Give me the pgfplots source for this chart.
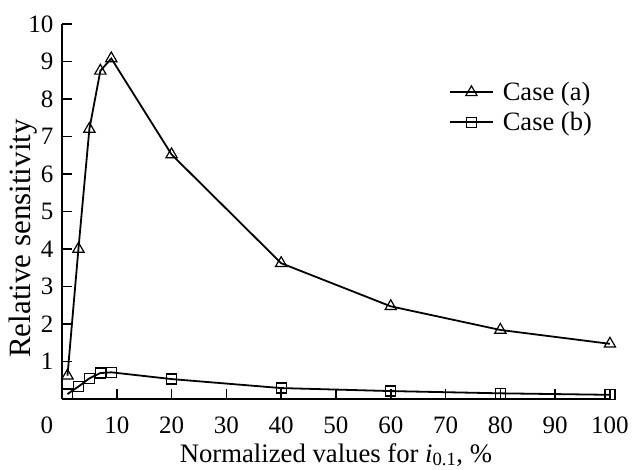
\documentclass[border=0pt]{standalone}
\usepackage{fontspec}
\setmainfont{Liberation Serif}
\usepackage{pgfplots}
\pgfplotsset{compat=1.18}
\begin{document}
\begin{tikzpicture}
\begin{axis}[
  width=548pt, height=375pt, scale only axis,
  xmin=0, xmax=100, ymin=0, ymax=10,
  axis x line=bottom, axis y line=left,
  axis line style={-, line width=1.5pt},
  tick align=inside, major tick length=10pt,
  tick style={line width=1.5pt, black},
  xtick={10,20,...,100}, ytick={1,2,...,10},
  extra x ticks={0},
  extra x tick style={major tick length=0pt, xticklabel style={xshift=-15pt}},
  /pgf/number format/assume math mode=true,
  tick label style={font=\fontsize{25}{29}\selectfont},
  xticklabel style={yshift=-14pt},
  yticklabel style={xshift=-5pt},
  xlabel style={font=\fontsize{26.7}{30}\selectfont, yshift=-3pt},
  ylabel style={font=\fontsize{31}{34}\selectfont, xshift=-27pt, yshift=-16pt},
  xlabel={Normalized values for \textit{i}\textsubscript{0.1}, \%},
  ylabel={Relative sensitivity},
  legend style={at={(0.706,0.85)}, anchor=north west, draw=none, fill=none,
    font=\fontsize{26.5}{30}\selectfont, inner sep=0pt, row sep=6pt,
    /tikz/every odd column/.append style={column sep=7pt}},
  legend cell align=left,
  legend image code/.code={\draw[mark repeat=2,mark phase=2] plot coordinates {(0pt,0pt)(21.5pt,0pt)(43pt,0pt)};},
  clip=false,
]
\addplot[black, line width=1.8pt, mark=triangle, mark size=6.5pt,
  mark options={fill=white, line width=1.2pt}]
  coordinates {(1,0.62) (3,4.0) (5,7.2) (7,8.75) (9,9.08) (20,6.52) (40,3.62) (60,2.47) (80,1.84) (100,1.47)};
\addlegendentry{Case (a)}
\addplot[black, line width=1.8pt, mark=square, mark size=5pt,
  mark options={fill=white, line width=1.2pt}]
  coordinates {(1,0.13) (3,0.33) (5,0.55) (7,0.69) (9,0.71) (20,0.53) (40,0.29) (60,0.21) (80,0.15) (100,0.11)};
\addlegendentry{Case (b)}
\end{axis}
\path ([xshift=-62pt,yshift=24pt]current axis.north west);
\path ([xshift=22pt,yshift=-68pt]current axis.south east);
\end{tikzpicture}
\end{document}
